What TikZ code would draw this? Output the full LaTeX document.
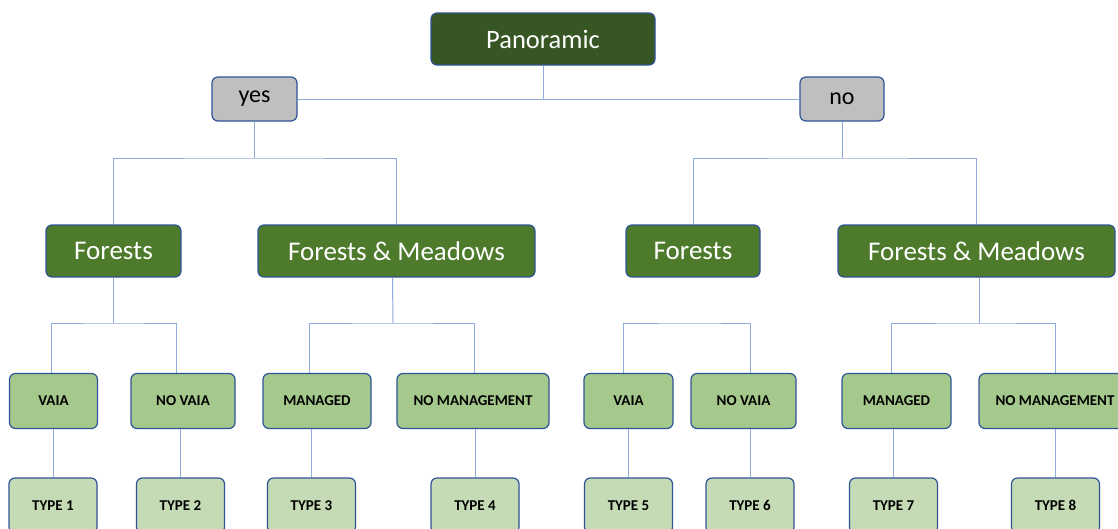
\documentclass[tikz,border=0pt]{standalone}
\usepackage{fontspec}
\setmainfont{Carlito}

\definecolor{panogreen}{HTML}{375623}
\definecolor{landgreen}{HTML}{4E7A2C}
\definecolor{mgmtgreen}{HTML}{A5C88C}
\definecolor{typegreen}{HTML}{C5DBB5}
\definecolor{answergray}{HTML}{BFBFBF}
\definecolor{boxblue}{HTML}{2F5496}
\definecolor{lineblue}{HTML}{8FAADC}

\begin{document}
\begin{tikzpicture}[x=1pt,y=-1pt,
		box/.style={draw=boxblue,line width=1.2pt,rounded corners=6pt,align=center,inner sep=0pt},
		rootbox/.style={box,fill=panogreen,text=white,minimum height=52pt,font=\fontsize{26.5}{31}\selectfont},
		answerbox/.style={box,fill=answergray,text=black,minimum height=44pt,font=\fontsize{24}{28}\selectfont},
		landbox/.style={box,fill=landgreen,text=white,minimum height=52pt,font=\fontsize{27}{32}\selectfont},
		mgmtbox/.style={box,fill=mgmtgreen,text=black,minimum height=55pt,font=\fontsize{15}{18}\selectfont\bfseries},
		typebox/.style={box,fill=typegreen,text=black,minimum width=88pt,minimum height=55pt,font=\fontsize{15}{18}\selectfont\bfseries},
		link/.style={draw=lineblue,line width=1pt}]
		\fill [white] (0,0) rectangle (1118,528);
		\useasboundingbox (0,0) rectangle (1118,528);
		
		\node [rootbox,minimum width=224pt] (pano) at (543,39) {Panoramic};
		\node [answerbox,minimum width=85pt] (yes) at (254.5,99) {yes};
		\node [answerbox,minimum width=84pt] (no) at (842,99) {no};
		
		\node [landbox,minimum width=135pt] (for1) at (113.5,251) {Forests};
		\node [landbox,minimum width=277pt] (fm1) at (396.5,251) {Forests \& Meadows};
		\node [landbox,minimum width=134pt] (for2) at (693,251) {Forests};
		\node [landbox,minimum width=277pt] (fm2) at (976.5,251) {Forests \& Meadows};
		
		\node [mgmtbox,minimum width=88pt] (vaia1) at (53.5,401) {VAIA};
		\node [mgmtbox,minimum width=104pt] (novaia1) at (183,401) {NO VAIA};
		\node [mgmtbox,minimum width=108pt] (man1) at (317,401) {MANAGED};
		\node [mgmtbox,minimum width=152pt] (noman1) at (473,401) {NO MANAGEMENT};
		\node [mgmtbox,minimum width=89pt] (vaia2) at (628.5,401) {VAIA};
		\node [mgmtbox,minimum width=105pt] (novaia2) at (743.5,401) {NO VAIA};
		\node [mgmtbox,minimum width=109pt] (man2) at (896.5,401) {MANAGED};
		\node [mgmtbox,minimum width=152pt] (noman2) at (1055,401) {NO MANAGEMENT};
		
		\foreach \name/\x/\n in {type1/53/1,type2/180.5/2,type3/311.5/3,type4/475/4,type5/628.5/5,type6/750/6,type7/893.5/7,type8/1055.5/8}
		{
			\node [typebox] (\name) at (\x,505.5) {TYPE \n};
		}
		
		% connectors
		\draw [link] (pano.south) -- (pano.south |- yes.east);
		\draw [link] (yes.east) -- (no.west);
		
		\coordinate (yesbar) at (254.5,158);
		\coordinate (nobar) at (842,158);
		\draw [link] (yes.south) -- (yesbar);
		\draw [link] (for1.north) |- (yesbar) -| (fm1.north);
		\draw [link] (no.south) -- (nobar);
		\draw [link] (for2.north) |- (nobar) -| (fm2.north);
		
		\coordinate (forbar1) at (113.5,323);
		\coordinate (fmbar1) at (393,323);
		\coordinate (forbar2) at (693,323);
		\coordinate (fmbar2) at (979,323);
		\draw [link] (for1.south) -- (forbar1);
		\draw [link] ([xshift=-2pt]vaia1.north) |- (forbar1) -| ([xshift=-7pt]novaia1.north);
		\draw [link] ([xshift=-4pt]fm1.south) -- (fmbar1);
		\draw [link] ([xshift=-8pt]man1.north) |- (fmbar1) -| ([xshift=1pt]noman1.north);
		\draw [link] ([xshift=-5pt]vaia2.north) |- (forbar2) -| ([xshift=7pt]novaia2.north);
		\draw [link] ([xshift=2.5pt]fm2.south) -- (fmbar2);
		\draw [link] ([xshift=-5pt]man2.north) |- (fmbar2) -| (noman2.north);
		
		\foreach \t/\p in {type1/vaia1,type2/novaia1,type3/man1,type4/noman1,type5/vaia2,type6/novaia2,type7/man2,type8/noman2}
		{
			\draw [link] (\t.north) -- (\t.north |- \p.south);
		}
		
	\end{tikzpicture}
\end{document}
